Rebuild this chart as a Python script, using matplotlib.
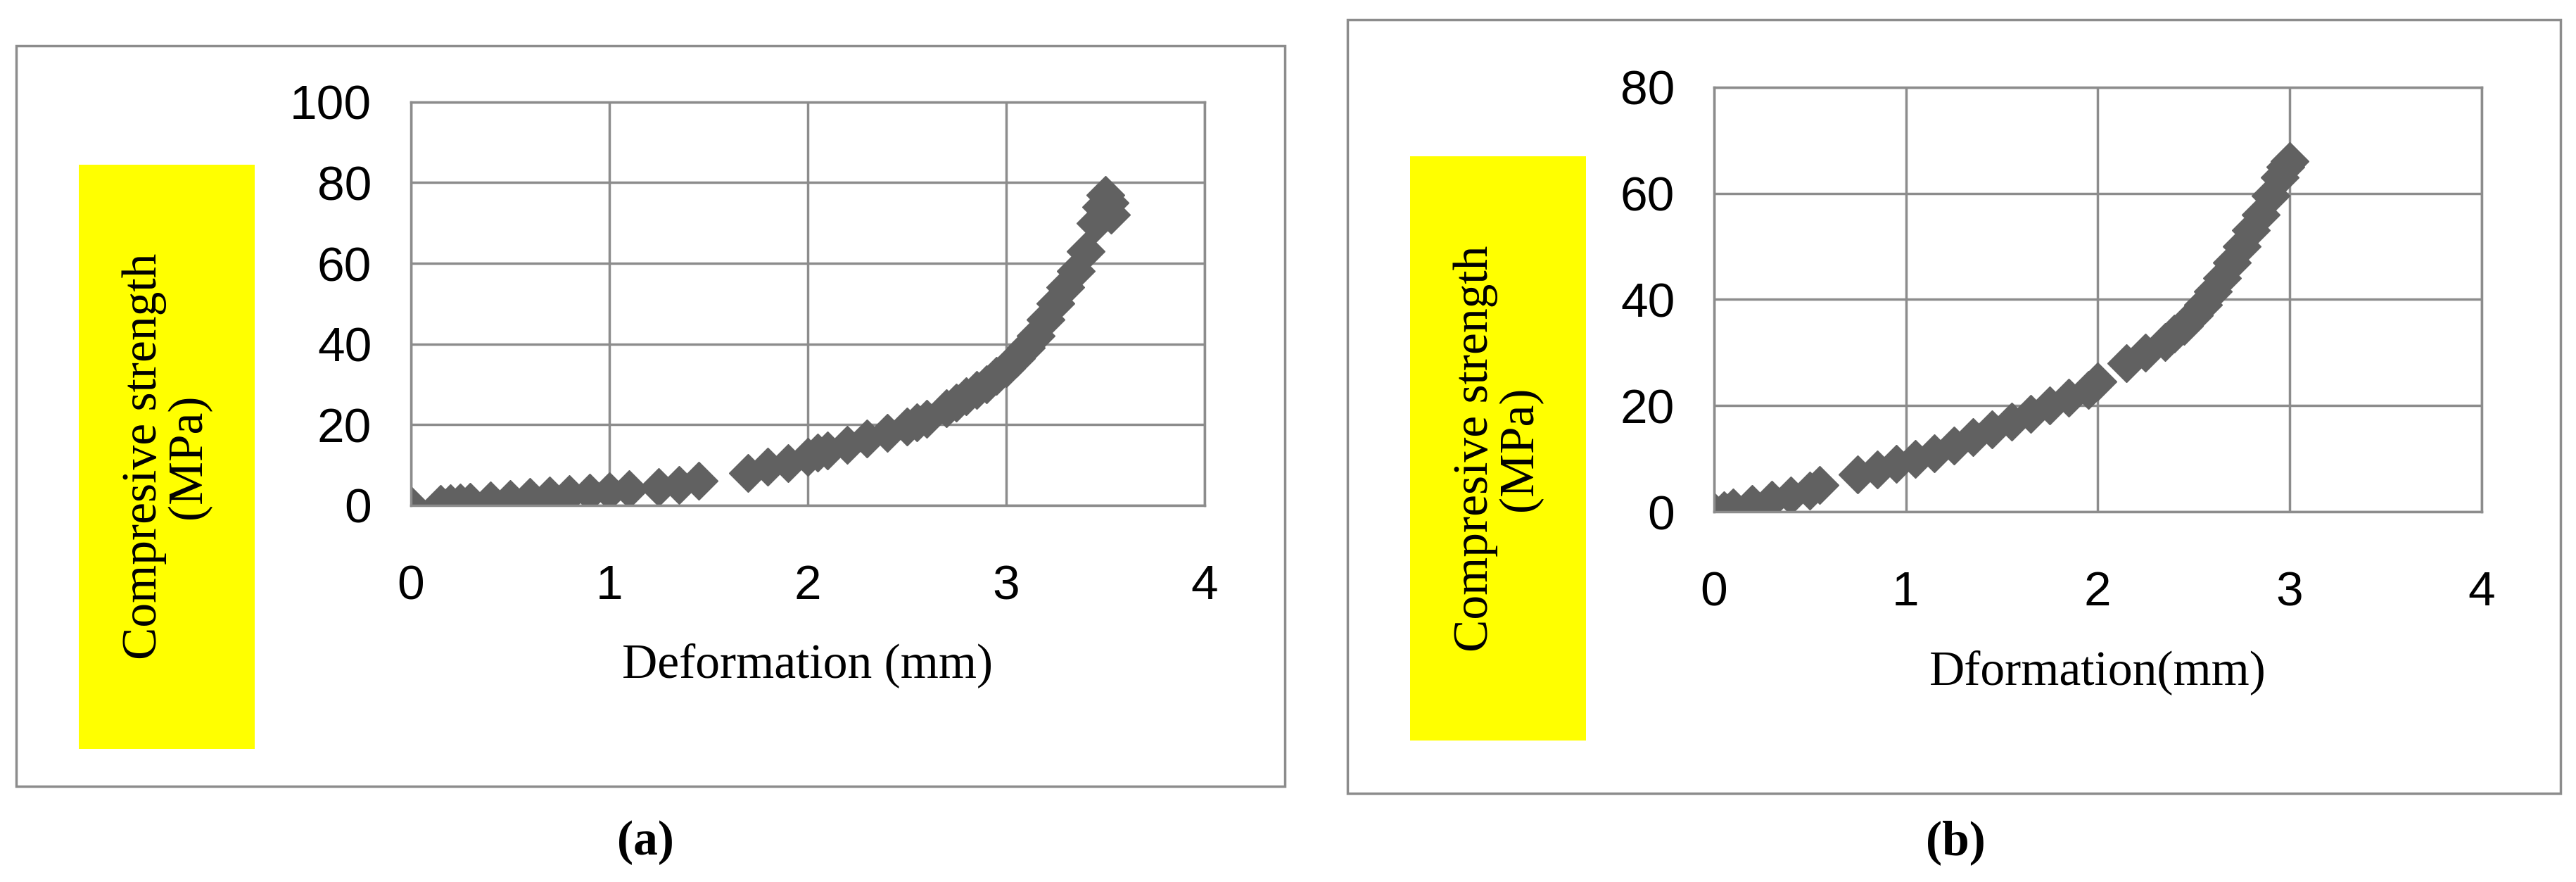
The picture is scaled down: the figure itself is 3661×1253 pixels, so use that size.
import matplotlib
matplotlib.use("Agg")
import matplotlib.pyplot as plt
from matplotlib.patches import Rectangle

xa = [0, 0.15, 0.2, 0.25, 0.3, 0.4, 0.5, 0.6, 0.7, 0.8, 0.9, 1.0, 1.1, 1.25, 1.35, 1.45,
      1.7, 1.8, 1.9, 2.0, 2.05, 2.1, 2.2, 2.3, 2.4, 2.5, 2.55, 2.6, 2.7, 2.75, 2.8, 2.85, 2.9,
      2.95, 3.0, 3.05, 3.1, 3.15, 3.2, 3.25, 3.3, 3.35, 3.4, 3.45, 3.48, 3.5, 3.52, 3.53]
ya = [0, 0.3, 0.5, 0.7, 0.9, 1.2, 1.5, 2.0, 2.3, 2.7, 3.0, 3.5, 4.0, 4.5, 5.0, 6.0,
      8, 9.5, 10.5, 12, 13, 13.5, 15, 16.5, 18, 19.5, 20.5, 21.5, 24, 25.5, 27, 28.5, 30,
      32, 34, 36.5, 39, 42, 46, 50, 54, 58, 63, 70, 74, 77, 75, 72]
xb = [0, 0.05, 0.1, 0.2, 0.3, 0.4, 0.5, 0.55, 0.75, 0.85, 0.95, 1.05, 1.15, 1.25, 1.35,
      1.45, 1.55, 1.65, 1.75, 1.85, 1.95, 2.0, 2.15, 2.25, 2.35, 2.4, 2.45, 2.5, 2.55, 2.6,
      2.65, 2.7, 2.75, 2.8, 2.85, 2.9, 2.95, 2.98, 3.0]
yb = [0, 0.3, 0.8, 1.5, 2.3, 3.0, 4.0, 5.0, 7.0, 8.0, 9.0, 10.0, 11.0, 12.5, 14.0,
      15.5, 17.0, 18.5, 20.0, 21.5, 23.0, 24.5, 28.0, 30.0, 32.0, 33.5, 35.0, 37, 39, 41.5,
      44, 47, 50, 53, 56, 59.5, 63, 65, 66]
xticks = [0, 1, 2, 3, 4]
yticks_a = [0, 20, 40, 60, 80, 100]
yticks_b = [0, 20, 40, 60, 80]

W, H = 1568, 536
fig = plt.figure(figsize=(36.62, 12.53), dpi=100)

def fr(x0, y0, x1, y1):
    return [x0 / W, 1 - y1 / H, (x1 - x0) / W, (y1 - y0) / H]

tickfont = dict(family=["Liberation Sans Narrow", "Liberation Sans", "DejaVu Sans"], size=50)
labfont = dict(family=["Liberation Serif", "DejaVu Serif"], size=50)

def panel(box, axbox, ybox, xs, ys, yt, xlabel, cap, capx):
    b = fr(*box)
    fig.add_artist(Rectangle((b[0], b[1]), b[2], b[3], transform=fig.transFigure,
                             fill=False, ec="#8c8c8c", lw=2.5))
    yb_ = fr(*ybox)
    fig.add_artist(Rectangle((yb_[0], yb_[1]), yb_[2], yb_[3], transform=fig.transFigure,
                             fc="#ffff00", ec="none"))
    fig.text(yb_[0] + yb_[2] / 2, yb_[1] + yb_[3] / 2, "Compresive strength\n(MPa)",
             rotation=90, ha="center", va="center", linespacing=1.0, **labfont)
    ax = fig.add_axes(fr(*axbox))
    ax.plot(xs, ys, ls="none", marker="D", ms=28, color="#616161", mec="#616161")
    ax.set_xlim(0, 4)
    ax.set_ylim(0, yt[-1])
    ax.set_xticks(xticks)
    ax.set_yticks(yt)
    ax.grid(True, color="#8c8c8c", lw=2.5)
    ax.set_axisbelow(True)
    for s in ax.spines.values():
        s.set_color("#8c8c8c")
        s.set_linewidth(2.5)
    ax.tick_params(length=0, pad=40)
    for t in ax.get_xticklabels() + ax.get_yticklabels():
        t.set_fontfamily(tickfont["family"])
        t.set_fontsize(tickfont["size"])
    ax.tick_params(axis="x", pad=60)
    ax.set_xlabel(xlabel, labelpad=35, **labfont)
    fig.text(capx / W, 1 - 512 / H, cap, ha="center", va="center",
             family=["Liberation Serif", "DejaVu Serif"], weight="bold", size=50)

panel((10, 28, 782, 478), (250, 62, 733, 307), (48, 100, 155, 455), xa, ya, yticks_a,
      "Deformation (mm)", "(a)", 393)
panel((820, 12, 1558, 482), (1043, 53, 1510, 311), (858, 95, 965, 450), xb, yb, yticks_b,
      "Dformation(mm)", "(b)", 1190)

fig.savefig("out.png", dpi=100)
